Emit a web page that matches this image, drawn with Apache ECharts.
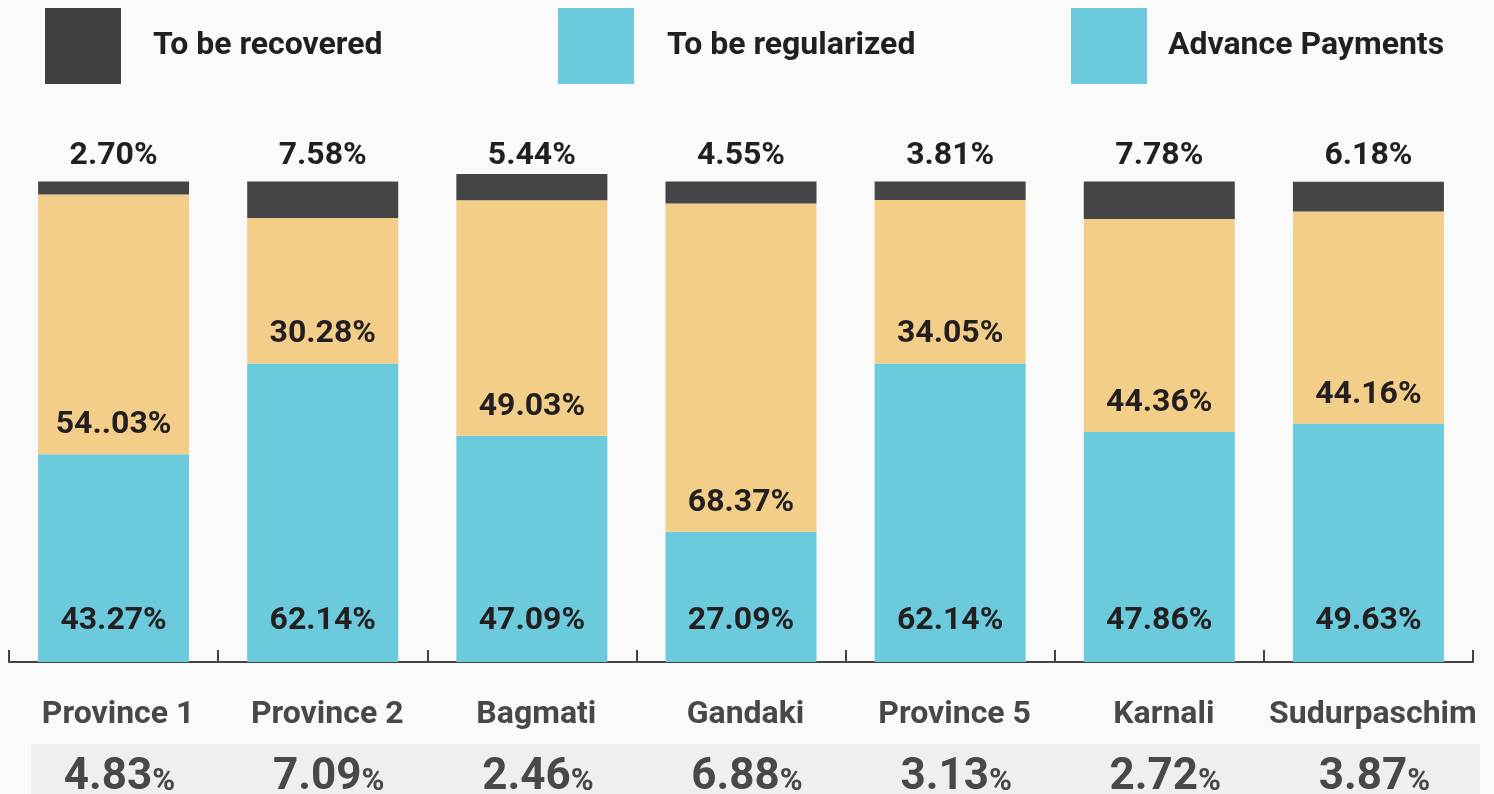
<!DOCTYPE html>
<html>
<head>
<meta charset="utf-8">
<script src="https://cdn.jsdelivr.net/npm/echarts@6/dist/echarts.min.js"></script>
<style>
html,body{margin:0;padding:0;background:#fafafa;}
#chart{width:1494px;height:794px;}
</style>
</head>
<body>
<div id="chart"></div>
<script>
const categories = ['Province 1','Province 2','Bagmati','Gandaki','Province 5','Karnali','Sudurpaschim'];
const advancePayments = [43.27, 62.14, 47.09, 27.09, 62.14, 47.86, 49.63];
const toBeRegularized = [54.03, 30.28, 49.03, 68.37, 34.05, 44.36, 44.16];
const toBeRecovered = [2.70, 7.58, 5.44, 4.55, 3.81, 7.78, 6.18];
const advanceLabels = ['43.27%','62.14%','47.09%','27.09%','62.14%','47.86%','49.63%'];
const regularizedLabels = ['54..03%','30.28%','49.03%','68.37%','34.05%','44.36%','44.16%'];
const recoveredLabels = ['2.70%','7.58%','5.44%','4.55%','3.81%','7.78%','6.18%'];
const bottomValues = ['4.83','7.09','2.46','6.88','3.13','2.72','3.87'];

const BLUE = '#6bcbdd', YELLOW = '#f2ce88', DARK = '#454547';
const FONT = 'Roboto';
const LBL = '#231f20';

const chart = echarts.init(document.getElementById('chart'));
function legendCfg(name, left, color, pad) {
  return {
    left: left, top: 8, padding: 0, orient: 'horizontal', selectedMode: false,
    icon: 'rect', itemWidth: 76, itemHeight: 76,
    data: [{name: name, itemStyle: {color: color}}],
    textStyle: {fontFamily: FONT, fontWeight: 'bold', fontSize: 32, color: LBL, padding: [0,0,0,pad]}
  };
}
chart.setOption({
  backgroundColor: '#fafafa',
  animation: false,
  legend: [
    legendCfg('To be recovered', 45, '#404040', 27),
    legendCfg('To be regularized', 558, BLUE, 28),
    legendCfg('Advance Payments', 1071, BLUE, 16)
  ],
  graphic: [{
    type: 'rect', z: -10,
    shape: {x: 31, y: 744, width: 1449, height: 50},
    style: {fill: '#efefef'}
  }],
  grid: {left: 9, right: 21, top: 172, bottom: 132, containLabel: false, outerBoundsMode: 'none'},
  xAxis: [{
    type: 'category', data: categories, position: 'bottom',
    axisLine: {show: true, lineStyle: {color: '#444', width: 2}},
    axisTick: {show: true, inside: true, length: 12, interval: 0, lineStyle: {color: '#444', width: 2}},
    axisLabel: {margin: 37, fontFamily: FONT, fontWeight: 'bold', fontSize: 32, color: '#47484a', interval: 0,
      padding: [0, 0, 0, 9]}
  }, {
    type: 'category', data: categories, position: 'bottom',
    axisLine: {show: false}, axisTick: {show: false},
    axisLabel: {
      margin: 94, interval: 0, padding: [0, 0, 0, 12],
      formatter: (v, i) => '{n|' + bottomValues[i] + '}{p|%}',
      rich: {
        n: {fontFamily: FONT, fontWeight: 'bold', fontSize: 44, color: '#47484a', lineHeight: 44, verticalAlign: 'bottom'},
        p: {fontFamily: FONT, fontWeight: 'bold', fontSize: 31, color: '#47484a', lineHeight: 44, verticalAlign: 'bottom', padding: [0,0,2,0]}
      }
    }
  }, {
    type: 'category', data: categories, position: 'top',
    axisLine: {show: false}, axisTick: {show: false},
    axisLabel: {
      margin: 0, interval: 0,
      formatter: (v, i) => recoveredLabels[i],
      fontFamily: FONT, fontWeight: 'bold', fontSize: 32, color: LBL
    }
  }],
  yAxis: {type: 'value', min: 0, max: 102, show: false, splitLine: {show: false}},
  series: [{
    name: 'Advance Payments', type: 'bar', stack: 'total', barWidth: 151,
    itemStyle: {color: BLUE},
    label: {show: true, position: 'insideBottom', distance: 25,
      formatter: p => advanceLabels[p.dataIndex],
      fontFamily: FONT, fontWeight: 'bold', fontSize: 32, color: LBL},
    data: advancePayments
  }, {
    name: 'To be regularized', type: 'bar', stack: 'total', barWidth: 151,
    itemStyle: {color: YELLOW},
    label: {show: true, position: 'insideBottom', distance: 13,
      formatter: p => regularizedLabels[p.dataIndex],
      fontFamily: FONT, fontWeight: 'bold', fontSize: 32, color: LBL},
    data: toBeRegularized
  }, {
    name: 'To be recovered', type: 'bar', stack: 'total', barWidth: 151,
    itemStyle: {color: DARK},
    label: {show: false},
    data: toBeRecovered
  }]
});
</script>
</body>
</html>
